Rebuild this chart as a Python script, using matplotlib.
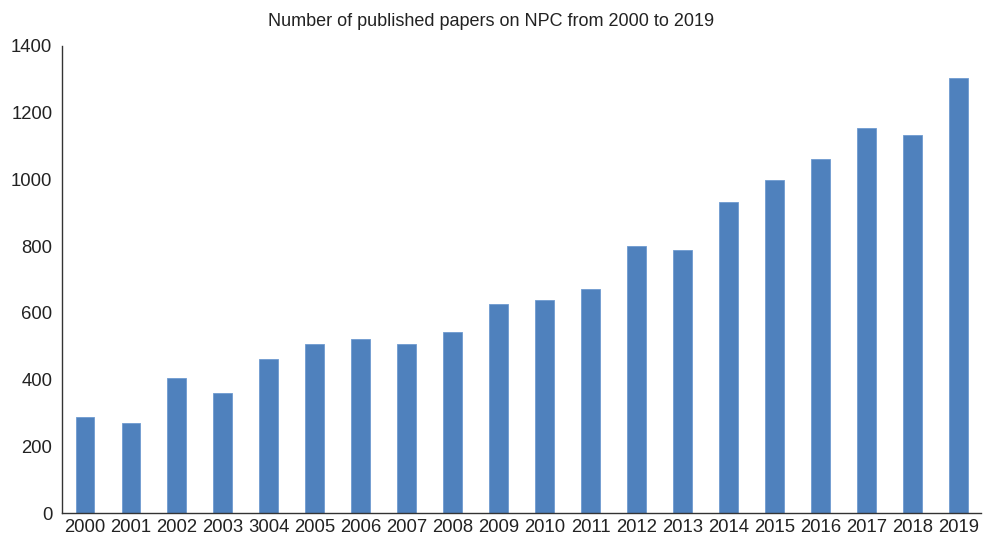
import numpy as np
import matplotlib.pyplot as plt

plt.rcParams['font.family'] = ['Liberation Sans', 'DejaVu Sans']

# yearly counts (the 2004 label is printed as "3004" on the axis)
years = ['2000', '2001', '2002', '2003', '3004', '2005', '2006', '2007', '2008', '2009',
         '2010', '2011', '2012', '2013', '2014', '2015', '2016', '2017', '2018', '2019']
papers = [287, 269, 405, 360, 461, 507, 522, 507, 542, 627,
          638, 671, 800, 788, 931, 998, 1061, 1154, 1134, 1304]


def main():
    fig = plt.figure(figsize=(9.83, 5.40), dpi=100)
    ax = fig.add_axes([0.0631, 0.05, 0.935, 0.865])

    x = np.arange(len(years))
    ax.bar(x, papers, width=0.41, color='#4F81BD', edgecolor='#6E9AD0', linewidth=0.6)

    ax.set_xlim(-0.5, len(years) - 0.5)
    ax.set_ylim(0, 1400)
    ax.set_yticks(range(0, 1401, 200))
    ax.set_xticks(x)
    ax.set_xticklabels(years)
    ax.tick_params(axis='both', length=0, labelsize=13.3, colors='#222222')
    ax.tick_params(axis='y', pad=7)
    ax.tick_params(axis='x', pad=4)

    for s in ['top', 'right']:
        ax.spines[s].set_visible(False)
    for s in ['left', 'bottom']:
        ax.spines[s].set_color('#333333')
        ax.spines[s].set_linewidth(1.0)

    fig.text(0.5, 0.96, 'Number of published papers on NPC from 2000 to 2019',
             ha='center', va='center', fontsize=13, color='#222222')

    fig.savefig('out.png', dpi=100)


if __name__ == "__main__":
    main()
